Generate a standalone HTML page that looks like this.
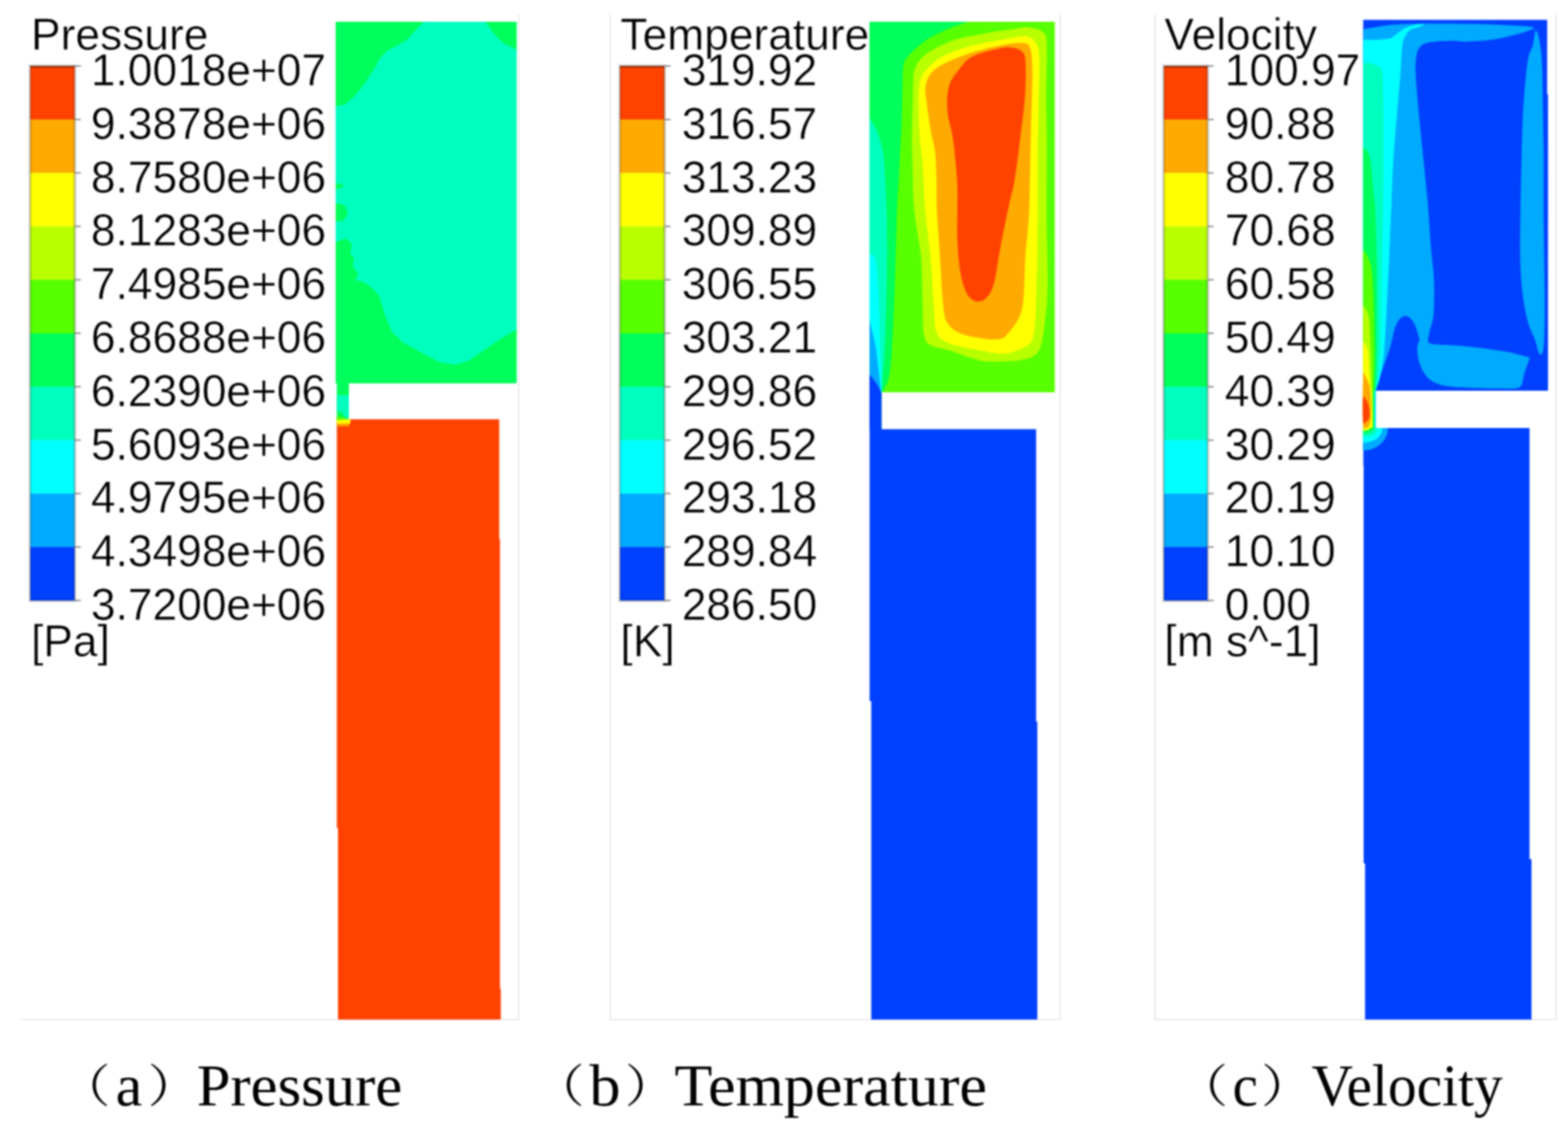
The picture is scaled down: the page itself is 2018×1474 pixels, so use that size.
<!DOCTYPE html>
<html><head><meta charset="utf-8"><title>Pressure, Temperature, Velocity</title>
<style>
html,body{margin:0;padding:0;background:#fff;}
body{width:2018px;height:1474px;overflow:hidden;position:relative;}
svg{position:absolute;left:0;top:0;display:block;}
#w{position:absolute;left:0;top:0;width:2018px;height:1474px;filter:blur(0.8px);}
.lg{font-family:"Liberation Sans",sans-serif;font-size:57px;fill:#000;stroke:#fff;stroke-width:0.5px;}
.cap{font-family:"Liberation Serif","Noto Serif CJK SC",serif;font-size:75.4px;fill:#000;}
.par{font-family:"Noto Serif CJK SC","Liberation Serif",serif;font-size:58.6px;fill:#000;}
</style></head><body>
<div id="w"><svg width="2018" height="1474" viewBox="0 0 2018 1474">
<rect x="667" y="18" width="1" height="1295" fill="#d9d9d9"/>
<rect x="26" y="1312" width="642" height="1" fill="#d9d9d9"/>
<rect x="785" y="18" width="1" height="1295" fill="#d9d9d9"/>
<rect x="1364" y="18" width="1" height="1295" fill="#d9d9d9"/>
<rect x="785" y="1312" width="580" height="1" fill="#d9d9d9"/>
<rect x="1486" y="18" width="1" height="1295" fill="#d9d9d9"/>
<rect x="2002" y="18" width="1" height="1295" fill="#d9d9d9"/>
<rect x="1486" y="1312" width="517" height="1" fill="#d9d9d9"/>
<path d="M432.0,28.0 L665.0,28.0 L665.0,493.5 L449.0,493.5 L449.0,540.0 L433.5,540.0 L433.5,493.5 L432.0,493.5Z" fill="#00ff5a"/>
<path d="M545.4,28.0 L625.3,28.0 L635.0,42.8 L648.0,55.8 L665.0,64.0 L665.0,424.0 L648.0,433.8 L628.5,446.9 L602.5,464.8 L586.0,469.6 L566.6,466.4 L547.0,456.6 L517.7,440.3 L504.7,427.3 L495.0,404.5 L488.4,381.7 L478.6,370.3 L465.6,362.0 L457.0,361.0 L461.0,353.0 L454.2,342.6 L455.8,332.8 L451.0,326.3 L452.6,313.3 L444.4,306.7 L432.0,312.0 L432.0,296.0 L438.0,298.0 L441.0,301.0 L434.0,303.0 L432.0,300.0 L432.0,285.0 L442.0,284.0 L447.5,275.0 L444.0,265.0 L436.0,262.0 L432.0,262.0 L432.0,243.0 L438.0,242.0 L443.0,239.0 L437.0,236.0 L432.0,237.0 L432.0,137.3 L444.4,134.0 L455.8,124.3 L468.9,108.0 L481.9,88.4 L488.4,75.4 L498.2,65.6 L524.3,51.0 L537.3,36.3Z" fill="#00ffbf"/>
<path d="M433.5,508.8 L449.0,508.8 L449.0,539.0 L443.0,536.0 L440.0,530.0 L433.5,529.0Z" fill="#00ffbf"/>
<path d="M433.5,539.7 L642.5,539.7 L642.5,694.0 L643.5,694.0 L643.5,1273.0 L644.5,1273.0 L644.5,1312.5 L435.0,1312.5 L435.0,1066.0 L433.5,1066.0Z" fill="#ff4200"/>
<path d="M433.5,539.7 L451.0,539.7 L451.0,545.0 L433.5,545.0Z" fill="#ffff00"/>
<path d="M433.5,545.0 L450.0,545.0 L449.0,548.5 L433.5,548.5Z" fill="#ffaa00"/>
<path d="M433.5,536.0 L441.0,537.0 L446.0,540.0 L433.5,541.0Z" fill="#58ff00"/>
<path d="M1119.0,28.0 L1357.5,28.0 L1357.5,505.0 L1134.6,505.0 L1134.6,553.0 L1119.0,553.0Z" fill="#58ff00"/>
<path d="M1245.8,28.0 C1241.4,29.6 1227.9,33.9 1219.4,37.6 C1210.9,41.3 1201.8,45.6 1194.7,50.0 C1187.6,54.4 1182.0,59.3 1177.0,64.0 C1172.0,68.7 1167.2,73.2 1164.7,78.2 C1162.2,83.2 1162.6,86.1 1162.0,94.0 C1161.4,101.9 1161.5,114.6 1161.2,125.8 C1160.9,137.0 1160.8,149.2 1160.3,161.0 C1159.8,172.8 1159.1,184.6 1158.5,196.4 C1157.9,208.2 1157.4,219.4 1156.7,231.7 C1156.0,244.0 1155.2,253.4 1154.5,270.0 C1153.8,286.6 1153.4,310.7 1152.8,331.0 C1152.2,351.3 1151.5,371.6 1150.7,392.0 C1149.9,412.4 1148.7,437.9 1147.7,453.2 C1146.7,468.5 1146.1,476.0 1144.6,483.8 C1143.1,491.6 1140.2,496.5 1138.5,500.0 C1136.8,503.5 1135.2,504.2 1134.6,505.0 L1119,505 L1119,28 Z" fill="#00ff5a"/>
<path d="M1119.0,152.3 C1120.4,154.7 1125.0,160.5 1127.6,166.4 C1130.2,172.3 1132.9,179.7 1134.7,187.6 C1136.5,195.5 1137.2,200.3 1138.2,214.0 C1139.2,227.7 1140.4,250.5 1141.0,270.0 C1141.6,289.5 1141.7,310.7 1141.6,331.0 C1141.5,351.3 1141.0,371.6 1140.5,392.0 C1140.0,412.4 1139.3,436.2 1138.5,453.2 C1137.7,470.2 1136.1,485.4 1135.4,494.0 C1134.8,502.6 1134.7,503.2 1134.6,505.0 L1119,505 Z" fill="#00ffbf"/>
<path d="M1119.0,327.0 C1120.2,328.0 1124.4,325.5 1126.3,333.0 C1128.2,340.5 1129.4,355.2 1130.4,371.8 C1131.4,388.4 1131.7,412.5 1132.4,432.9 C1133.1,453.3 1134.2,482.0 1134.6,494.0 C1135.0,506.0 1134.6,503.2 1134.6,505.0 L1119,505 Z" fill="#00ffff"/>
<path d="M1119.0,412.5 C1120.2,417.6 1124.4,432.8 1126.3,443.0 C1128.2,453.2 1129.2,464.1 1130.4,473.6 C1131.6,483.1 1132.7,494.8 1133.4,500.0 C1134.1,505.2 1134.4,504.2 1134.6,505.0 L1119,505 Z" fill="#00aaff"/>
<path d="M1119.0,481.7 C1120.5,483.8 1125.7,489.9 1128.3,494.0 C1130.9,498.1 1133.5,504.0 1134.6,506.0 L1134.6,553 L1119,553 Z" fill="#0040ff"/>
<path d="M1175.3,108.0 C1175.7,99.2 1175.2,96.1 1177.0,90.6 C1178.8,85.0 1180.9,79.7 1185.9,74.7 C1190.9,69.7 1199.1,64.7 1207.0,60.6 C1214.9,56.5 1223.2,52.9 1233.5,50.0 C1243.8,47.1 1257.0,45.1 1268.8,43.0 C1280.5,40.9 1295.2,38.9 1304.0,37.6 C1312.8,36.3 1315.8,34.7 1321.7,35.0 C1327.6,35.3 1335.2,37.2 1339.3,39.4 C1343.4,41.6 1345.1,42.6 1346.4,48.2 C1347.7,53.8 1347.3,60.1 1347.3,73.0 C1347.3,85.9 1346.4,108.2 1346.4,125.8 C1346.4,143.4 1347.2,153.1 1347.3,178.8 C1347.4,204.5 1346.8,247.8 1347.0,280.0 C1347.2,312.2 1349.0,346.3 1348.2,371.8 C1347.4,397.3 1344.5,419.0 1342.1,432.9 C1339.7,446.8 1338.7,450.2 1333.9,455.3 C1329.2,460.4 1323.8,461.7 1313.6,463.4 C1303.4,465.1 1283.1,465.7 1272.9,465.4 C1262.7,465.1 1261.0,463.8 1252.5,461.4 C1244.0,459.0 1230.8,453.9 1222.0,451.2 C1213.2,448.5 1205.0,448.2 1199.6,445.1 C1194.2,442.1 1191.4,441.8 1189.4,432.9 C1187.4,424.0 1188.1,409.0 1187.4,392.0 C1186.7,375.0 1187.1,351.3 1185.3,331.0 C1183.5,310.7 1178.3,289.5 1176.5,270.0 C1174.7,250.5 1174.9,229.2 1174.4,214.0 C1173.9,198.8 1173.5,190.6 1173.5,178.8 C1173.5,167.1 1174.1,155.3 1174.4,143.5 C1174.7,131.7 1174.9,116.8 1175.3,108.0Z" fill="#b8ff00"/>
<path d="M1182.3,143.5 C1182.3,131.2 1181.9,114.1 1184.0,104.7 C1186.1,95.3 1189.4,92.6 1194.7,87.0 C1200.0,81.4 1206.4,75.9 1215.8,71.2 C1225.2,66.5 1239.2,62.0 1251.0,58.8 C1262.8,55.6 1275.2,53.8 1286.4,51.8 C1297.6,49.8 1310.4,46.2 1318.0,46.5 C1325.6,46.8 1328.7,49.1 1332.0,53.5 C1335.3,57.9 1336.8,61.0 1337.6,73.0 C1338.4,85.0 1337.0,105.2 1336.7,125.8 C1336.4,146.4 1336.0,170.7 1335.8,196.4 C1335.6,222.1 1335.8,250.8 1335.5,280.0 C1335.2,309.2 1334.8,346.3 1333.9,371.8 C1333.0,397.3 1333.3,420.0 1329.9,432.9 C1326.5,445.8 1320.4,445.5 1313.6,449.2 C1306.8,452.9 1297.7,455.0 1289.2,455.3 C1280.7,455.6 1273.6,453.2 1262.7,451.2 C1251.8,449.1 1233.5,446.7 1224.0,443.0 C1214.5,439.3 1209.4,437.3 1205.7,428.8 C1202.0,420.3 1203.0,408.3 1201.6,392.0 C1200.2,375.7 1199.3,351.3 1197.5,331.0 C1195.7,310.7 1192.2,289.5 1190.5,270.0 C1188.8,250.5 1188.7,229.2 1187.6,214.0 C1186.5,198.8 1184.9,190.6 1184.0,178.8 C1183.1,167.1 1182.3,155.8 1182.3,143.5Z" fill="#ffff00"/>
<path d="M1192.9,134.7 C1191.7,125.0 1190.2,118.5 1191.1,111.7 C1192.0,104.9 1194.1,99.0 1198.2,94.0 C1202.3,89.0 1207.0,86.1 1215.8,81.7 C1224.6,77.3 1239.2,71.4 1251.0,67.6 C1262.8,63.8 1276.1,60.8 1286.4,58.8 C1296.7,56.8 1306.4,55.0 1312.9,55.3 C1319.4,55.6 1322.6,54.7 1325.2,60.6 C1327.8,66.5 1328.4,73.9 1328.7,90.6 C1329.0,107.3 1327.7,131.1 1327.0,161.0 C1326.3,190.9 1325.7,241.7 1324.5,270.0 C1323.3,298.3 1321.2,310.0 1319.7,331.0 C1318.2,352.0 1319.0,380.2 1315.6,396.2 C1312.2,412.2 1304.7,420.0 1299.3,426.8 C1293.9,433.6 1292.8,436.3 1283.0,437.0 C1273.2,437.7 1250.8,434.2 1240.3,430.8 C1229.8,427.4 1224.3,423.1 1219.9,416.6 C1215.5,410.1 1215.5,406.3 1213.8,392.0 C1212.1,377.7 1211.1,351.3 1209.8,331.0 C1208.5,310.7 1206.5,286.6 1205.7,270.0 C1205.0,253.4 1205.7,244.0 1205.3,231.7 C1204.9,219.4 1204.7,206.7 1203.5,196.4 C1202.3,186.1 1200.0,180.3 1198.2,170.0 C1196.4,159.7 1194.1,144.4 1192.9,134.7Z" fill="#ffaa00"/>
<path d="M1219.4,143.5 C1218.5,132.3 1218.8,120.5 1221.1,111.7 C1223.4,102.9 1228.5,97.0 1233.5,90.6 C1238.5,84.1 1242.2,77.7 1251.0,73.0 C1259.8,68.3 1277.6,64.2 1286.4,62.3 C1295.2,60.4 1299.0,60.6 1304.0,61.5 C1309.0,62.4 1313.8,64.2 1316.4,67.6 C1319.1,71.0 1319.5,72.0 1319.9,81.7 C1320.3,91.4 1320.2,109.6 1319.0,125.8 C1317.8,142.0 1315.1,161.2 1312.9,178.8 C1310.7,196.5 1308.4,216.5 1305.8,231.7 C1303.2,246.9 1300.4,255.1 1297.3,270.0 C1294.2,284.9 1290.1,304.9 1287.1,320.9 C1284.0,336.8 1282.0,355.2 1279.0,365.7 C1276.0,376.2 1272.5,380.3 1268.8,384.0 C1265.1,387.7 1260.7,389.0 1256.6,388.0 C1252.5,387.0 1247.8,384.0 1244.4,377.9 C1241.0,371.8 1238.2,362.6 1236.2,351.4 C1234.2,340.2 1232.8,324.3 1232.1,310.7 C1231.4,297.1 1232.2,283.2 1232.1,270.0 C1232.0,256.8 1232.7,246.9 1231.7,231.7 C1230.8,216.5 1228.5,193.5 1226.4,178.8 C1224.4,164.1 1220.3,154.7 1219.4,143.5Z" fill="#ff4200"/>
<path d="M1119.2,552.5 L1333.5,552.5 L1333.5,929.0 L1335.0,929.0 L1335.0,1312.5 L1121.3,1312.5 L1121.3,902.5 L1119.2,902.5Z" fill="#0040ff"/>
<path d="M1754.4,25.5 L1991.2,25.5 L1991.2,121.4 L1992.3,121.4 L1992.3,503.0 L1770.5,503.0 L1770.5,551.0 L1754.4,551.0Z" fill="#0040ff"/>
<path d="M1754.4,37.6 C1757.0,37.2 1764.1,35.9 1770.0,35.0 C1775.9,34.1 1780.0,32.7 1790.0,32.0 C1800.0,31.3 1816.7,30.8 1830.0,30.6 C1843.3,30.4 1855.0,30.5 1870.0,30.6 C1885.0,30.8 1905.0,31.0 1920.0,31.5 C1935.0,32.0 1950.7,32.8 1960.0,33.5 C1969.3,34.2 1973.3,35.5 1976.0,35.9 L1976.0,35.9 C1972.8,37.1 1965.8,40.5 1956.7,43.0 C1947.6,45.5 1933.2,49.1 1921.4,50.9 C1909.6,52.6 1894.8,53.2 1886.0,53.5 C1877.2,53.8 1876.2,52.4 1868.5,52.6 C1860.8,52.8 1846.8,53.3 1840.0,54.5 C1833.2,55.7 1830.8,57.1 1828.0,60.0 C1825.2,62.9 1824.0,66.0 1823.0,72.0 C1822.0,78.0 1821.4,82.5 1822.0,96.0 C1822.6,109.5 1825.0,134.0 1826.7,153.0 C1828.5,172.0 1830.6,191.0 1832.5,210.0 C1834.4,229.0 1836.5,249.5 1838.0,267.0 C1839.5,284.5 1840.0,299.3 1841.3,314.8 C1842.5,330.3 1844.9,345.1 1845.5,360.0 C1846.1,374.9 1845.8,393.3 1845.0,404.0 C1844.2,414.7 1841.7,418.7 1840.5,424.0 C1839.3,429.3 1838.4,433.8 1838.0,435.7 L1838.0,435.7 C1838.5,436.8 1836.0,441.0 1841.3,442.5 C1846.6,444.0 1859.9,443.7 1870.0,444.5 C1880.1,445.3 1890.1,446.1 1901.8,447.5 C1913.5,448.9 1928.8,450.9 1940.0,453.0 C1951.2,455.1 1964.2,459.2 1969.0,460.4 L1969.0,460.4 C1967.8,463.7 1964.2,473.7 1962.0,480.0 C1959.8,486.3 1960.8,495.1 1955.5,498.4 C1950.2,501.7 1939.0,499.8 1930.0,500.0 C1921.0,500.2 1912.8,500.1 1901.8,499.6 C1890.8,499.2 1873.8,499.0 1863.7,497.3 C1853.6,495.6 1847.2,493.7 1841.3,489.5 C1835.4,485.3 1831.4,478.6 1828.5,472.0 C1825.6,465.4 1824.2,455.8 1824.0,450.0 C1823.8,444.2 1826.5,439.2 1827.0,437.0 L1827.0,437.0 C1825.8,433.5 1822.7,421.0 1820.0,416.0 C1817.3,411.0 1814.0,408.0 1811.0,407.0 C1808.0,406.0 1804.7,407.3 1802.0,410.0 C1799.3,412.7 1797.0,417.2 1795.0,423.0 C1793.0,428.8 1792.2,436.6 1789.8,444.7 C1787.4,452.8 1783.8,462.7 1780.8,471.6 C1777.8,480.6 1773.6,493.2 1771.9,498.4 C1770.2,503.6 1770.7,502.2 1770.5,503.0 L1754.4,503.0 Z" fill="#00aaff"/>
<path d="M1976.0,40.0 C1977.2,37.6 1978.4,40.7 1979.6,44.7 C1980.8,48.7 1982.2,56.4 1983.1,64.1 C1984.0,71.8 1984.5,77.4 1984.9,90.6 C1985.4,103.8 1985.5,125.9 1985.8,143.5 C1986.1,161.1 1986.5,173.7 1986.7,196.4 C1986.9,219.2 1986.5,249.1 1986.7,280.0 C1986.9,310.9 1988.0,354.6 1988.0,382.0 C1988.0,409.4 1988.0,432.4 1986.9,444.7 C1985.8,457.0 1983.2,457.0 1981.3,455.9 C1979.4,454.8 1978.1,444.7 1975.7,438.0 C1973.3,431.3 1969.3,424.9 1966.7,415.6 C1964.1,406.3 1961.7,395.1 1960.0,382.0 C1958.3,368.9 1957.1,354.2 1956.6,337.2 C1956.0,320.2 1956.4,303.5 1956.7,280.0 C1957.0,256.5 1957.8,219.2 1958.4,196.4 C1959.0,173.7 1959.3,159.7 1960.2,143.5 C1961.1,127.3 1962.5,111.2 1963.7,99.4 C1964.9,87.7 1965.8,79.8 1967.3,73.0 C1968.8,66.2 1971.1,64.3 1972.6,58.8 C1974.0,53.3 1974.8,42.4 1976.0,40.0Z" fill="#00aaff"/>
<path d="M1754.4,51.4 C1757.8,51.3 1769.1,51.4 1775.0,51.0 C1780.9,50.6 1786.3,50.2 1790.0,49.0 C1793.7,47.8 1794.5,45.8 1797.0,44.0 C1799.5,42.2 1802.0,39.8 1805.0,38.0 C1808.0,36.2 1811.5,34.6 1815.0,33.5 C1818.5,32.4 1823.0,31.6 1826.0,31.2 C1829.0,30.8 1832.7,30.5 1833.0,31.0 C1833.3,31.5 1831.0,32.8 1828.0,34.0 C1825.0,35.2 1818.2,36.5 1815.0,38.5 C1811.8,40.5 1810.7,42.8 1809.0,46.0 C1807.3,49.2 1806.2,49.0 1805.0,58.0 C1803.8,67.0 1803.0,87.3 1802.0,100.0 C1801.0,112.7 1800.0,122.3 1799.0,134.0 C1798.0,145.7 1797.0,157.3 1796.0,170.0 C1795.0,182.7 1793.9,193.3 1793.0,210.0 C1792.1,226.7 1791.3,250.0 1790.5,270.0 C1789.7,290.0 1788.8,311.7 1788.0,330.0 C1787.2,348.3 1786.6,359.8 1785.5,380.0 C1784.4,400.2 1783.1,433.5 1781.5,451.0 C1779.9,468.5 1777.6,477.1 1776.0,485.0 C1774.4,492.9 1772.8,495.4 1771.9,498.4 C1771.0,501.4 1770.7,502.2 1770.5,503.0 L1754.4,503 Z" fill="#00ffff"/>
<path d="M1754.4,80.8 C1756.2,80.9 1761.6,80.6 1765.0,81.5 C1768.4,82.4 1772.6,83.6 1775.0,86.0 C1777.4,88.4 1778.3,85.3 1779.2,96.0 C1780.1,106.7 1780.3,131.0 1780.5,150.0 C1780.7,169.0 1780.6,190.0 1780.5,210.0 C1780.4,230.0 1780.3,250.0 1780.0,270.0 C1779.7,290.0 1778.9,311.7 1778.5,330.0 C1778.1,348.3 1777.8,359.8 1777.5,380.0 C1777.2,400.2 1777.2,432.7 1776.5,451.0 C1775.8,469.3 1774.0,481.3 1773.0,490.0 C1772.0,498.7 1770.9,500.8 1770.5,503.0 L1754.4,503 Z" fill="#00ffbf"/>
<path d="M1754.4,190.0 C1755.3,190.8 1758.4,192.2 1760.0,195.0 C1761.6,197.8 1762.8,199.5 1764.0,207.0 C1765.2,214.5 1766.0,230.0 1767.0,240.0 C1768.0,250.0 1769.0,257.0 1769.7,267.0 C1770.4,277.0 1770.6,287.8 1771.0,300.0 C1771.4,312.2 1771.8,326.7 1772.0,340.0 C1772.2,353.3 1772.0,361.5 1772.0,380.0 C1772.0,398.5 1772.2,432.0 1772.0,451.0 C1771.8,470.0 1770.8,485.3 1770.5,494.0 C1770.2,502.7 1770.1,501.5 1770.0,503.0 L1754.4,503 Z" fill="#00ff5a"/>
<path d="M1754.4,321.0 C1755.3,322.5 1758.2,326.0 1760.0,330.0 C1761.8,334.0 1763.8,336.7 1765.0,345.0 C1766.2,353.3 1766.8,362.3 1767.5,380.0 C1768.2,397.7 1768.9,432.0 1769.0,451.0 C1769.1,470.0 1768.2,485.3 1768.0,494.0 C1767.8,502.7 1767.6,501.5 1767.5,503.0 L1754.4,503 Z" fill="#58ff00"/>
<path d="M1754.4,503.0 L1770.5,503.0 L1770.5,551.0 L1754.4,551.0Z" fill="#00ffff"/>
<path d="M1754.4,500.0 L1768.8,500.0 L1768.8,551.0 L1754.4,551.0Z" fill="#00ff5a"/>
<path d="M1754.4,500.0 L1767.0,500.0 L1767.0,551.0 L1754.4,551.0Z" fill="#b8ff00"/>
<path d="M1754.4,551 h32 a32,29 0 0 1 -32,29 Z" fill="#00aaff"/>
<path d="M1754.4,551 h25 a25,19 0 0 1 -25,19 Z" fill="#00ffff"/>
<path d="M1754.4,551 h19 a19,12 0 0 1 -19,12 Z" fill="#00ffbf"/>
<path d="M1754.4,551 h14 a14,7.5 0 0 1 -14,7.5 Z" fill="#00ff5a"/>
<path d="M1754.4,393.0 C1755.0,393.8 1756.7,395.2 1758.0,398.0 C1759.3,400.8 1761.1,403.0 1762.0,410.0 C1762.9,417.0 1763.0,430.0 1763.5,440.0 C1764.0,450.0 1764.6,459.5 1765.0,470.0 C1765.4,480.5 1765.8,497.5 1766.0,503.0 L1766,548 L1754.4,548 Z" fill="#b8ff00"/>
<path d="M1754.4,440.0 C1755.0,440.8 1756.9,442.5 1758.0,445.0 C1759.1,447.5 1760.1,449.2 1760.8,455.0 C1761.5,460.8 1761.5,472.0 1762.0,480.0 C1762.5,488.0 1763.4,494.7 1764.0,503.0 C1764.6,511.3 1765.2,522.2 1765.5,530.0 C1765.8,537.8 1765.9,546.7 1766.0,550.0 L1754.4,555 Z" fill="#ffff00"/>
<path d="M1754.4,484.0 C1755.0,473.7 1756.7,484.2 1758.0,486.0 C1759.3,487.8 1761.0,491.0 1762.0,495.0 C1763.0,499.0 1763.6,504.2 1764.0,510.0 C1764.4,515.8 1764.7,524.0 1764.5,530.0 C1764.3,536.0 1764.7,543.0 1763.0,546.0 C1761.3,549.0 1755.8,558.3 1754.4,548.0 C1753.0,537.7 1753.8,494.3 1754.4,484.0Z" fill="#ffaa00"/>
<path d="M1754.4,512.0 C1755.2,507.5 1757.7,513.8 1759.0,516.0 C1760.3,518.2 1761.4,521.5 1762.0,525.0 C1762.6,528.5 1763.2,534.0 1762.5,537.0 C1761.8,540.0 1759.3,542.0 1758.0,543.0 C1756.7,544.0 1755.0,548.2 1754.4,543.0 C1753.8,537.8 1753.6,516.5 1754.4,512.0Z" fill="#ff4200"/>
<path d="M1754.6,551.0 L1968.5,551.0 L1968.5,1106.0 L1971.0,1106.0 L1971.0,1312.5 L1756.8,1312.5 L1756.8,1111.6 L1755.0,1111.6 L1755.0,600.0 L1754.6,600.0Z" fill="#0040ff"/>
<path d="M1754.4,551 h32 a32,29 0 0 1 -32,29 Z" fill="#00aaff"/>
<path d="M1754.4,551 h25 a25,19 0 0 1 -25,19 Z" fill="#00ffff"/>
<path d="M1754.4,551 h19 a19,12 0 0 1 -19,12 Z" fill="#00ffbf"/>
<path d="M1754.4,551 h14 a14,7.5 0 0 1 -14,7.5 Z" fill="#00ff5a"/>
<path d="M1754.4,551 h9 a9,3.5 0 0 1 -9,3.5 Z" fill="#ffff00"/>
<rect x="39" y="85.00" width="57" height="69.10" fill="#ff4200"/>
<rect x="39" y="153.80" width="57" height="69.10" fill="#ffaa00"/>
<rect x="39" y="222.60" width="57" height="69.10" fill="#ffff00"/>
<rect x="39" y="291.40" width="57" height="69.10" fill="#b8ff00"/>
<rect x="39" y="360.20" width="57" height="69.10" fill="#58ff00"/>
<rect x="39" y="429.00" width="57" height="69.10" fill="#00ff5a"/>
<rect x="39" y="497.80" width="57" height="69.10" fill="#00ffbf"/>
<rect x="39" y="566.60" width="57" height="69.10" fill="#00ffff"/>
<rect x="39" y="635.40" width="57" height="69.10" fill="#00aaff"/>
<rect x="39" y="704.20" width="57" height="69.10" fill="#0040ff"/>
<rect x="38" y="84" width="59" height="690" fill="none" stroke="#c6c6c6" stroke-width="2"/>
<rect x="39.75" y="85.75" width="55.5" height="686.5" fill="none" stroke="#000" stroke-opacity="0.18" stroke-width="1.5"/>
<rect x="39" y="85" width="57" height="2" fill="#000" fill-opacity="0.35"/>
<rect x="96" y="84.10" width="8" height="1.8" fill="#8a8a8a"/>
<rect x="96" y="152.90" width="8" height="1.8" fill="#8a8a8a"/>
<rect x="96" y="221.70" width="8" height="1.8" fill="#8a8a8a"/>
<rect x="96" y="290.50" width="8" height="1.8" fill="#8a8a8a"/>
<rect x="96" y="359.30" width="8" height="1.8" fill="#8a8a8a"/>
<rect x="96" y="428.10" width="8" height="1.8" fill="#8a8a8a"/>
<rect x="96" y="496.90" width="8" height="1.8" fill="#8a8a8a"/>
<rect x="96" y="565.70" width="8" height="1.8" fill="#8a8a8a"/>
<rect x="96" y="634.50" width="8" height="1.8" fill="#8a8a8a"/>
<rect x="96" y="703.30" width="8" height="1.8" fill="#8a8a8a"/>
<rect x="96" y="772.10" width="8" height="1.8" fill="#8a8a8a"/>
<rect x="798" y="85.00" width="57" height="69.10" fill="#ff4200"/>
<rect x="798" y="153.80" width="57" height="69.10" fill="#ffaa00"/>
<rect x="798" y="222.60" width="57" height="69.10" fill="#ffff00"/>
<rect x="798" y="291.40" width="57" height="69.10" fill="#b8ff00"/>
<rect x="798" y="360.20" width="57" height="69.10" fill="#58ff00"/>
<rect x="798" y="429.00" width="57" height="69.10" fill="#00ff5a"/>
<rect x="798" y="497.80" width="57" height="69.10" fill="#00ffbf"/>
<rect x="798" y="566.60" width="57" height="69.10" fill="#00ffff"/>
<rect x="798" y="635.40" width="57" height="69.10" fill="#00aaff"/>
<rect x="798" y="704.20" width="57" height="69.10" fill="#0040ff"/>
<rect x="797" y="84" width="59" height="690" fill="none" stroke="#c6c6c6" stroke-width="2"/>
<rect x="798.75" y="85.75" width="55.5" height="686.5" fill="none" stroke="#000" stroke-opacity="0.18" stroke-width="1.5"/>
<rect x="798" y="85" width="57" height="2" fill="#000" fill-opacity="0.35"/>
<rect x="855" y="84.10" width="8" height="1.8" fill="#8a8a8a"/>
<rect x="855" y="152.90" width="8" height="1.8" fill="#8a8a8a"/>
<rect x="855" y="221.70" width="8" height="1.8" fill="#8a8a8a"/>
<rect x="855" y="290.50" width="8" height="1.8" fill="#8a8a8a"/>
<rect x="855" y="359.30" width="8" height="1.8" fill="#8a8a8a"/>
<rect x="855" y="428.10" width="8" height="1.8" fill="#8a8a8a"/>
<rect x="855" y="496.90" width="8" height="1.8" fill="#8a8a8a"/>
<rect x="855" y="565.70" width="8" height="1.8" fill="#8a8a8a"/>
<rect x="855" y="634.50" width="8" height="1.8" fill="#8a8a8a"/>
<rect x="855" y="703.30" width="8" height="1.8" fill="#8a8a8a"/>
<rect x="855" y="772.10" width="8" height="1.8" fill="#8a8a8a"/>
<rect x="1498" y="85.00" width="56" height="69.10" fill="#ff4200"/>
<rect x="1498" y="153.80" width="56" height="69.10" fill="#ffaa00"/>
<rect x="1498" y="222.60" width="56" height="69.10" fill="#ffff00"/>
<rect x="1498" y="291.40" width="56" height="69.10" fill="#b8ff00"/>
<rect x="1498" y="360.20" width="56" height="69.10" fill="#58ff00"/>
<rect x="1498" y="429.00" width="56" height="69.10" fill="#00ff5a"/>
<rect x="1498" y="497.80" width="56" height="69.10" fill="#00ffbf"/>
<rect x="1498" y="566.60" width="56" height="69.10" fill="#00ffff"/>
<rect x="1498" y="635.40" width="56" height="69.10" fill="#00aaff"/>
<rect x="1498" y="704.20" width="56" height="69.10" fill="#0040ff"/>
<rect x="1497" y="84" width="58" height="690" fill="none" stroke="#c6c6c6" stroke-width="2"/>
<rect x="1498.75" y="85.75" width="54.5" height="686.5" fill="none" stroke="#000" stroke-opacity="0.18" stroke-width="1.5"/>
<rect x="1498" y="85" width="56" height="2" fill="#000" fill-opacity="0.35"/>
<rect x="1554" y="84.10" width="8" height="1.8" fill="#8a8a8a"/>
<rect x="1554" y="152.90" width="8" height="1.8" fill="#8a8a8a"/>
<rect x="1554" y="221.70" width="8" height="1.8" fill="#8a8a8a"/>
<rect x="1554" y="290.50" width="8" height="1.8" fill="#8a8a8a"/>
<rect x="1554" y="359.30" width="8" height="1.8" fill="#8a8a8a"/>
<rect x="1554" y="428.10" width="8" height="1.8" fill="#8a8a8a"/>
<rect x="1554" y="496.90" width="8" height="1.8" fill="#8a8a8a"/>
<rect x="1554" y="565.70" width="8" height="1.8" fill="#8a8a8a"/>
<rect x="1554" y="634.50" width="8" height="1.8" fill="#8a8a8a"/>
<rect x="1554" y="703.30" width="8" height="1.8" fill="#8a8a8a"/>
<rect x="1554" y="772.10" width="8" height="1.8" fill="#8a8a8a"/>
<text class="lg" x="40" y="64">Pressure</text>
<text class="lg" x="117" y="110.0">1.0018e+07</text>
<text class="lg" x="117" y="178.8">9.3878e+06</text>
<text class="lg" x="117" y="247.6">8.7580e+06</text>
<text class="lg" x="117" y="316.4">8.1283e+06</text>
<text class="lg" x="117" y="385.2">7.4985e+06</text>
<text class="lg" x="117" y="454.0">6.8688e+06</text>
<text class="lg" x="117" y="522.8">6.2390e+06</text>
<text class="lg" x="117" y="591.6">5.6093e+06</text>
<text class="lg" x="117" y="660.4">4.9795e+06</text>
<text class="lg" x="117" y="729.2">4.3498e+06</text>
<text class="lg" x="117" y="798.0">3.7200e+06</text>
<text class="lg" x="40" y="844.5">[Pa]</text>
<text class="lg" x="798.6" y="64">Temperature</text>
<text class="lg" x="877.4" y="110.0">319.92</text>
<text class="lg" x="877.4" y="178.8">316.57</text>
<text class="lg" x="877.4" y="247.6">313.23</text>
<text class="lg" x="877.4" y="316.4">309.89</text>
<text class="lg" x="877.4" y="385.2">306.55</text>
<text class="lg" x="877.4" y="454.0">303.21</text>
<text class="lg" x="877.4" y="522.8">299.86</text>
<text class="lg" x="877.4" y="591.6">296.52</text>
<text class="lg" x="877.4" y="660.4">293.18</text>
<text class="lg" x="877.4" y="729.2">289.84</text>
<text class="lg" x="877.4" y="798.0">286.50</text>
<text class="lg" x="798.6" y="844.5">[K]</text>
<text class="lg" x="1498.6" y="64">Velocity</text>
<text class="lg" x="1576.3" y="110.0">100.97</text>
<text class="lg" x="1576.3" y="178.8">90.88</text>
<text class="lg" x="1576.3" y="247.6">80.78</text>
<text class="lg" x="1576.3" y="316.4">70.68</text>
<text class="lg" x="1576.3" y="385.2">60.58</text>
<text class="lg" x="1576.3" y="454.0">50.49</text>
<text class="lg" x="1576.3" y="522.8">40.39</text>
<text class="lg" x="1576.3" y="591.6">30.29</text>
<text class="lg" x="1576.3" y="660.4">20.19</text>
<text class="lg" x="1576.3" y="729.2">10.10</text>
<text class="lg" x="1576.3" y="798.0">0.00</text>
<text class="lg" x="1498.6" y="844.5">[m s^-1]</text>
<text class="par" transform="translate(75.96,1418.8) scale(1.13,1)">（</text>
<text class="cap" transform="translate(148.79,1422.5) scale(1.0270,1)">a</text>
<text class="par" transform="translate(190.00,1418.8) scale(1.13,1)">）</text>
<text class="cap" transform="translate(253.16,1422.5) scale(1.0354,1)">Pressure</text>
<text class="par" transform="translate(686.36,1418.8) scale(1.13,1)">（</text>
<text class="cap" transform="translate(758.50,1422.5) scale(1.0639,1)">b</text>
<text class="par" transform="translate(803.90,1418.8) scale(1.13,1)">）</text>
<text class="cap" transform="translate(868.10,1422.5) scale(1.0589,1)">Temperature</text>
<text class="par" transform="translate(1514.26,1418.8) scale(1.13,1)">（</text>
<text class="cap" transform="translate(1586.36,1422.5) scale(0.9750,1)">c</text>
<text class="par" transform="translate(1622.90,1418.8) scale(1.13,1)">）</text>
<text class="cap" transform="translate(1687.96,1422.5) scale(0.9786,1)">Velocity</text>
</svg></div>
</body></html>
